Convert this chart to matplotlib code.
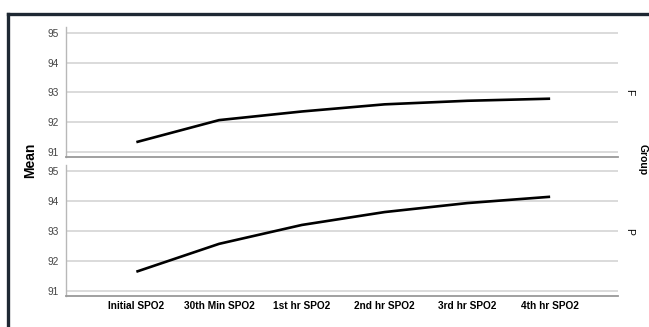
import numpy as np
import matplotlib.pyplot as plt
from matplotlib.lines import Line2D

plt.rcParams['font.family'] = ['Liberation Sans', 'DejaVu Sans']

# data
times = ['Initial SPO2', '30th Min SPO2', '1st hr SPO2', '2nd hr SPO2', '3rd hr SPO2', '4th hr SPO2']
groups = ['F', 'P']
mean_F = [91.33, 92.07, 92.36, 92.60, 92.72, 92.79]
mean_P = [91.64, 92.57, 93.20, 93.63, 93.93, 94.14]
yticks = [91, 92, 93, 94, 95]

fig = plt.figure(figsize=(6.49, 3.27), dpi=100)
fig.patch.set_facecolor('white')

# dark frame (top and left edge of the screenshot)
fig.add_artist(Line2D([8 / 649, 8 / 649], [0, 1 - 14 / 327], color='#1e2833', lw=2.4,
                      transform=fig.transFigure, solid_capstyle='projecting'))
fig.add_artist(Line2D([8 / 649, 1], [1 - 14 / 327, 1 - 14 / 327], color='#1e2833', lw=2.4,
                      transform=fig.transFigure, solid_capstyle='projecting'))

ax_top = fig.add_axes([66 / 649, 1 - 157 / 327, 552 / 649, 130 / 327])
ax_bot = fig.add_axes([66 / 649, 1 - 296 / 327, 552 / 649, 131 / 327])

x = np.arange(len(times))
for ax, vals, g in [(ax_top, mean_F, groups[0]), (ax_bot, mean_P, groups[1])]:
    ax.plot(x, vals, color='black', lw=1.9, zorder=3, solid_capstyle='butt')
    ax.set_xlim(-0.85, 5.82)
    ax.set_ylim(90.83, 95.2)
    ax.set_yticks(yticks)
    ax.set_yticklabels([str(t) for t in yticks], fontsize=7.3, color='#444444')
    ax.grid(axis='y', color='#d8d8d8', lw=1.3, zorder=0)
    for s in ['top', 'right']:
        ax.spines[s].set_visible(False)
    ax.spines['left'].set_color('#b8b8b8')
    ax.spines['bottom'].set_color('#999999')
    ax.spines['left'].set_linewidth(1.0)
    ax.spines['bottom'].set_linewidth(1.3)
    ax.tick_params(axis='y', length=0, pad=5)
    ax.tick_params(axis='x', length=0)
    # group label on the right, level with the 93 gridline
    ax.text(1.012, (93 - 90.83) / (95.2 - 90.83), g,
            transform=ax.transAxes, rotation=-90, fontsize=7.5, ha='left', va='center')

ax_top.set_xticks([])
ax_bot.set_xticks(x)
ax_bot.set_xticklabels(times, fontsize=7.3, fontweight='bold')

fig.text(30 / 649, 1 - 160 / 327, 'Mean', rotation=90, fontsize=10, fontweight='bold',
         ha='center', va='center')
fig.text(643 / 649, 1 - 160 / 327, 'Group', rotation=-90, fontsize=7.5, fontweight='bold',
         ha='center', va='center')

fig.savefig('out.png', dpi=100)
